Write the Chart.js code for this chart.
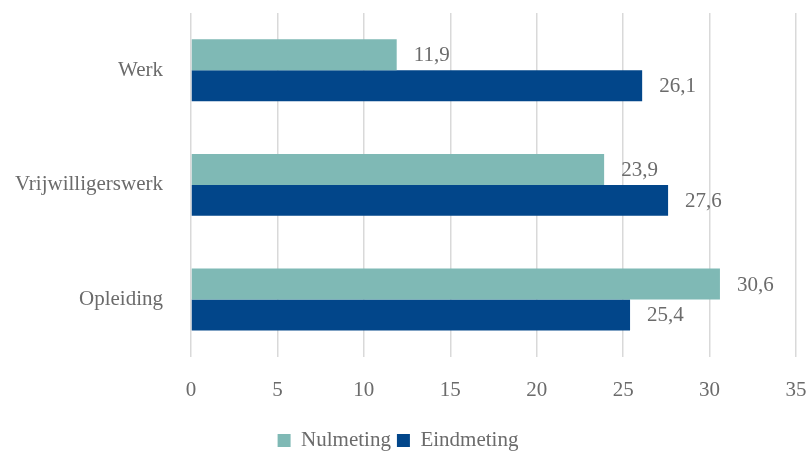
<!DOCTYPE html>
<html>
<head>
<meta charset="utf-8">
<script src="https://cdn.jsdelivr.net/npm/chart.js@4"></script>
<style>
  html, body { margin: 0; padding: 0; background: #fff; }
  #wrap { width: 811px; height: 454px; }
</style>
</head>
<body>
<div id="wrap"><canvas id="barChart"></canvas></div>
<script>
const categories = ['Werk', 'Vrijwilligerswerk', 'Opleiding'];
const nulmeting = [11.9, 23.9, 30.6];
const eindmeting = [26.1, 27.6, 25.4];
const seriesNames = ['Nulmeting', 'Eindmeting'];

const textColor = '#6b6b6b';
const fontFamily = "'Liberation Serif', 'DejaVu Serif', serif";

// draws the value next to each bar, Dutch decimal comma
const valueLabels = {
  id: 'valueLabels',
  afterDatasetsDraw(chart) {
    const ctx = chart.ctx;
    ctx.save();
    ctx.font = '21px ' + fontFamily;
    ctx.fillStyle = textColor;
    ctx.textAlign = 'left';
    ctx.textBaseline = 'middle';
    chart.data.datasets.forEach((ds, i) => {
      chart.getDatasetMeta(i).data.forEach((bar, j) => {
        const txt = ds.data[j].toFixed(1).replace('.', ',');
        ctx.fillText(txt, bar.x + 17, bar.y + 1);
      });
    });
    ctx.restore();
  }
};

const ctx = document.getElementById('barChart').getContext('2d');
const barChart = new Chart(ctx, {
  type: 'bar',
  data: {
    labels: categories,
    datasets: [{
      label: seriesNames[0],
      data: nulmeting,
      backgroundColor: '#7fb9b5',
      categoryPercentage: 0.54,
      barPercentage: 1
    }, {
      label: seriesNames[1],
      data: eindmeting,
      backgroundColor: '#02468a',
      categoryPercentage: 0.54,
      barPercentage: 1
    }]
  },
  options: {
    indexAxis: 'y',
    responsive: true,
    maintainAspectRatio: false,
    animation: false,
    layout: { padding: { top: 13, right: 15, left: 0, bottom: -7 } },
    scales: {
      x: {
        min: 0,
        max: 35,
        ticks: { stepSize: 5, color: textColor, padding: 21, font: { family: fontFamily, size: 21 } },
        grid: { color: '#d9d9d9', lineWidth: 1.5, drawTicks: false },
        border: { display: false },
        afterFit(scale) { scale.paddingLeft = 0; scale.paddingRight = 0; }
      },
      y: {
        ticks: { color: textColor, padding: 20, font: { family: fontFamily, size: 21 } },
        grid: { display: false },
        border: { display: false },
        afterFit(scale) {
          scale.width = 191;
          scale.paddingTop = 0;
          scale.paddingBottom = 0;
        }
      }
    },
    plugins: {
      legend: {
        position: 'bottom',
        labels: {
          color: textColor,
          boxWidth: 13,
          boxHeight: 13,
          padding: 6,
          font: { family: fontFamily, size: 21 }
        }
      },
      tooltip: { enabled: false }
    }
  },
  plugins: [valueLabels]
});
</script>
</body>
</html>
